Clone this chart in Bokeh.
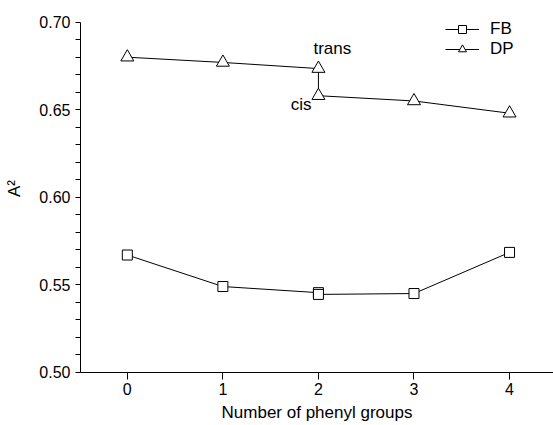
from bokeh.plotting import figure
from bokeh.models import Range1d, FixedTicker, Legend, LegendItem, CustomJSTickFormatter
from bokeh.core.properties import value
from bokeh.embed import file_html
from bokeh.resources import INLINE

# Data
fb_x = [0, 1, 2, 2, 3, 4]
fb_y = [0.567, 0.549, 0.5455, 0.5445, 0.545, 0.5685]
dp_x = [0, 1, 2, 2, 3, 4]
dp_y = [0.680, 0.677, 0.6735, 0.658, 0.655, 0.648]
series_names = ["FB", "DP"]
ann_text = ["trans", "cis"]
ann_idx = [2, 3]  # indices into DP series
x_ticks = [0, 1, 2, 3, 4]
y_ticks = [0.50, 0.55, 0.60, 0.65, 0.70]
y_minor_ticks = [0.51, 0.52, 0.53, 0.54, 0.56, 0.57, 0.58, 0.59,
                 0.61, 0.62, 0.63, 0.64, 0.66, 0.67, 0.68, 0.69]
x_label = "Number of phenyl groups"
y_label = "A\u00b2"

FONT = "Liberation Sans"

p = figure(width=553, height=425, output_backend="svg", toolbar_location=None,
           x_range=Range1d(-0.49, 4.46), y_range=Range1d(0.4999, 0.7101),
           min_border_left=80, min_border_right=0, min_border_top=4,
           min_border_bottom=53)
p.outline_line_color = None
p.xgrid.visible = False
p.ygrid.visible = False
p.background_fill_color = "white"
p.border_fill_color = "white"

r_fb_line = p.line(fb_x, fb_y, line_color="black", line_width=1)
r_fb_mark = p.scatter(fb_x, fb_y, marker="square", size=10, fill_color="white",
                      line_color="black", line_width=1)
r_dp_line = p.line(dp_x, dp_y, line_color="black", line_width=1)
r_dp_mark = p.scatter(dp_x, dp_y, marker="triangle", size=13, fill_color="white",
                      line_color="black", line_width=1)

# annotations
p.text(x=[dp_x[ann_idx[0]]], y=[dp_y[ann_idx[0]]], text=[ann_text[0]],
       x_offset=-5, y_offset=-20, text_align="left", text_baseline="alphabetic",
       text_font=value(FONT), text_font_size="17px", text_color="black")
p.text(x=[dp_x[ann_idx[1]]], y=[dp_y[ann_idx[1]]], text=[ann_text[1]],
       x_offset=-7, y_offset=9, text_align="right", text_baseline="alphabetic",
       text_font=value(FONT), text_font_size="17px", text_color="black")

# axes
xa = p.xaxis[0]
xa.ticker = FixedTicker(ticks=x_ticks)
xa.axis_label = x_label
ya = p.yaxis[0]
# all y ticks (major + minor) drawn as ticks; only the majors get labels
ya.ticker = FixedTicker(ticks=sorted(y_ticks + y_minor_ticks))
ya.axis_label = y_label
ya.formatter = CustomJSTickFormatter(
    code="return (Math.abs(tick*20 - Math.round(tick*20)) < 1e-6) ? tick.toFixed(2) : '';")
ya.bounds = (0.4999, 0.7001)

for ax in (xa, ya):
    ax.axis_line_color = "black"
    ax.major_tick_line_color = "black"
    ax.major_tick_in = 0
    ax.major_label_text_font = FONT
    ax.major_label_text_font_size = "16px"
    ax.major_label_text_color = "black"
    ax.axis_label_text_font = FONT
    ax.axis_label_text_font_size = "17px"
    ax.axis_label_text_font_style = "normal"
    ax.axis_label_text_color = "black"
    ax.minor_tick_line_color = None
xa.major_tick_out = 7
xa.major_label_standoff = 3
ya.major_tick_out = 5
ya.major_label_standoff = 5
xa.axis_label_standoff = 5
ya.axis_label_standoff = 12

legend = Legend(items=[
    LegendItem(label=series_names[0], renderers=[r_fb_line, r_fb_mark]),
    LegendItem(label=series_names[1], renderers=[r_dp_line, r_dp_mark]),
], location=(365, 313), glyph_width=34, glyph_height=20, label_height=20,
   label_standoff=11, padding=0, margin=0, spacing=0,
   border_line_color=None, background_fill_alpha=0,
   label_text_font=FONT, label_text_font_size="17px", label_text_color="black")
p.add_layout(legend, "center")

open("out.html", "w").write(file_html(p, INLINE))
